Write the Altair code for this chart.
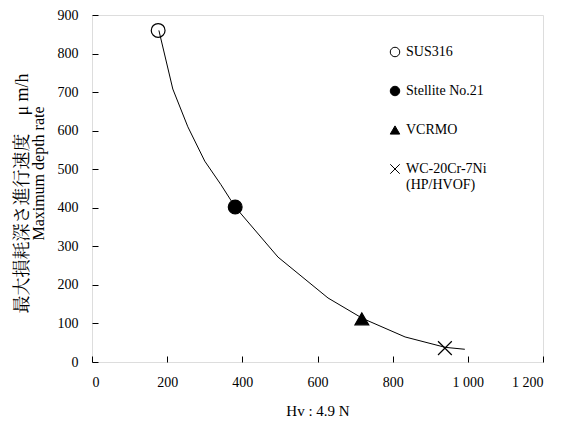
import altair as alt
import pandas as pd

# Material markers
materials = ["SUS316", "Stellite No.21", "VCRMO", "WC-20Cr-7Ni"]
mat_hv = [176, 381, 718, 939]
mat_rate = [860, 402, 112, 36]

# Trend curve
curve_hv = [178, 215, 255, 300, 343, 381, 495, 628, 720, 833, 940, 992]
curve_rate = [860, 708, 610, 521, 460, 402, 272, 166, 113, 65, 38, 33]

x_ticks = [0, 200, 400, 600, 800, 1000, 1200]
y_ticks = [0, 100, 200, 300, 400, 500, 600, 700, 800, 900]

shapes = ["circle", "circle", "triangle-up", "M-1,-1L1,1M-1,1L1,-1"]
fills = ["transparent", "black", "black", "transparent"]
strokes = ["black", "black", "black", "black"]

x_title = "Hv : 4.9 N"
y_title_jp = "最大損耗深さ進行速度　μ m/h"
y_title_en = "Maximum depth rate"

mat_df = pd.DataFrame({"material": materials, "hv": mat_hv, "rate": mat_rate})
curve_df = pd.DataFrame({"hv": curve_hv, "rate": curve_rate})

SERIF = "'Liberation Serif', 'Noto Serif CJK JP', 'Noto Sans CJK JP', serif"

xscale = alt.Scale(domain=[0, 1200], nice=False, zero=False)
yscale = alt.Scale(domain=[0, 900], nice=False, zero=False)

main_x = alt.Axis(
    orient="bottom", values=x_ticks, ticks=False, tickSize=0, domain=False, grid=False,
    labelFontSize=14, labelFont=SERIF, labelColor="black", labelPadding=13,
    labelExpr="datum.value >= 1000 ? floor(datum.value/1000) + ' ' + format(datum.value % 1000, '03d') : datum.label",
    title=x_title, titleFont=SERIF, titleFontSize=15, titleFontWeight="normal",
    titleColor="black", titlePadding=14,
)
main_y = alt.Axis(
    orient="left", values=y_ticks, ticks=False, tickSize=0, domain=False, grid=False,
    labelFontSize=14, labelFont=SERIF, labelColor="black", labelPadding=14,
    title=y_title_jp, titleFont=SERIF, titleFontSize=18, titleFontWeight="normal",
    titleColor="black", titleX=-70, titleY=178, titleAngle=270,
    titleAlign="center", titleBaseline="middle",
)
tick_x = alt.Axis(
    orient="bottom", values=x_ticks, ticks=True, tickSize=6, tickColor="black",
    offset=-6, labels=False, domain=False, grid=False, title=None,
)
tick_y = alt.Axis(
    orient="left", values=y_ticks, ticks=True, tickSize=6, tickColor="black",
    offset=-6, labels=False, domain=False, grid=False,
    title=y_title_en, titleFont=SERIF, titleFontSize=16, titleFontWeight="normal",
    titleColor="black", titleX=-60, titleY=158, titleAngle=270,
    titleAlign="center", titleBaseline="middle",
)

leg = alt.Legend(
    title=None, orient="none", legendX=296, legendY=30, padding=0,
    labelFont=SERIF, labelFontSize=14, labelColor="black", labelOffset=4,
    rowPadding=25, symbolSize=90, symbolStrokeColor="black", symbolStrokeWidth=1,
    labelExpr="datum.label == 'WC-20Cr-7Ni' ? ['WC-20Cr-7Ni', '(HP/HVOF)'] : datum.label",
)

line = alt.Chart(curve_df).mark_line(color="black", strokeWidth=1).encode(
    x=alt.X("hv:Q", scale=xscale, axis=main_x),
    y=alt.Y("rate:Q", scale=yscale, axis=main_y),
)

pts = alt.Chart(mat_df).mark_point(opacity=1, size=190, strokeWidth=1.2).encode(
    x=alt.X("hv:Q", scale=xscale, axis=tick_x),
    y=alt.Y("rate:Q", scale=yscale, axis=tick_y),
    shape=alt.Shape("material:N", scale=alt.Scale(domain=materials, range=shapes), legend=leg),
    fill=alt.Fill("material:N", scale=alt.Scale(domain=materials, range=fills), legend=leg),
    stroke=alt.Stroke("material:N", scale=alt.Scale(domain=materials, range=strokes), legend=leg),
)

chart = alt.layer(line, pts).resolve_axis(x="independent", y="independent").properties(
    width=451, height=347,
    padding={"left": 5, "top": 0, "right": 0, "bottom": 5},
    background="white",
).configure_view(stroke="#222", strokeWidth=1.3).configure(font=SERIF)

chart.save("out.html", embed_options={"renderer": "svg", "actions": False})
